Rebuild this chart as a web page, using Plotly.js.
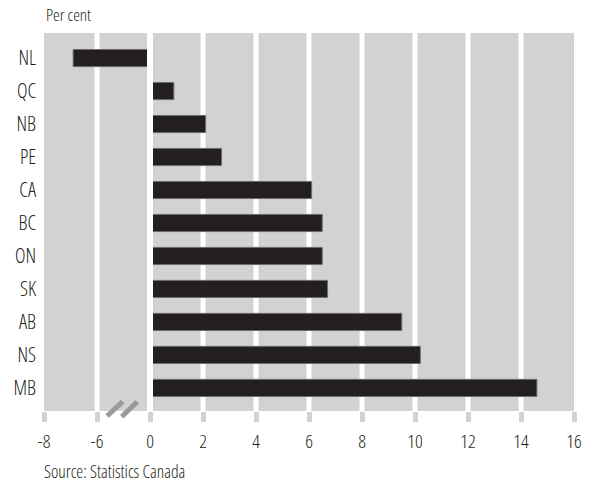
<!DOCTYPE html>
<html>
<head>
<meta charset="utf-8">
<script src="https://cdn.plot.ly/plotly-3.0.1.min.js"></script>
<style>
  html, body { margin: 0; padding: 0; background: #ffffff; }
  #chart { width: 591px; height: 483px; }
  text, svg text, body { font-stretch: 75% !important; }
</style>
</head>
<body>
<div id="chart"></div>
<script>
// Data (per cent)
var provinces = ["NL", "QC", "NB", "PE", "CA", "BC", "ON", "SK", "AB", "NS", "MB"];
var values = [-6.9, 0.9, 2.1, 2.7, 6.1, 6.5, 6.5, 6.7, 9.5, 10.2, 14.6];

// Axis ticks (axis is broken between -6 and 0)
var tickValuesReal = [-8, -6, 0, 2, 4, 6, 8, 10, 12, 14, 16];
var tickLabels = ["-8", "-6", "0", "2", "4", "6", "8", "10", "12", "14", "16"];

// Broken-axis mapping: the span from -6 to 0 is drawn as one 2-unit step
var BREAK_SHIFT = 4;
function toAxis(v) { return v <= -6 ? v + BREAK_SHIFT : v; }

var xPos = values.map(toAxis);
var tickPos = tickValuesReal.map(toAxis);

var FONT = "'Open Sans', 'DejaVu Sans Condensed', sans-serif";
var TEXT = "#231f20";
var GREY = "#d1d2d4";

var trace = {
  type: "bar",
  orientation: "h",
  y: provinces,
  x: xPos,
  marker: { color: "#231f20", line: { color: "#6d6d6d", width: 1 } },
  hoverinfo: "skip"
};

// white vertical separators at the inner ticks
var shapes = tickPos.slice(1, -1).map(function (t) {
  return { type: "line", xref: "x", yref: "paper", x0: t, x1: t, y0: 0, y1: 1,
           line: { color: "#ffffff", width: t === 0 ? 6 : 5 }, layer: t === 0 ? "above" : "below" };
});
shapes.push(
  { type: "line", xref: "paper", yref: "paper", x0: 0.119, y0: -0.0132, x1: 0.1485, y1: 0.0246,
    line: { color: "#9a9a9a", width: 5 }, layer: "above" },
  { type: "line", xref: "paper", yref: "paper", x0: 0.1466, y0: -0.0151, x1: 0.176, y1: 0.0246,
    line: { color: "#9a9a9a", width: 5 }, layer: "above" }
);

var layout = {
  width: 591,
  height: 483,
  margin: { l: 44, r: 17, t: 33, b: 72 },
  paper_bgcolor: "#ffffff",
  plot_bgcolor: GREY,
  showlegend: false,
  bargap: 0.48,
  font: { family: FONT, color: TEXT, weight: 300 },
  xaxis: {
    range: [toAxis(-8), 16],
    tickvals: tickPos,
    ticktext: tickLabels,
    showgrid: false,
    zeroline: false,
    showline: false,
    ticks: "outside",
    ticklen: 10,
    tickwidth: 5,
    tickcolor: GREY,
    ticklabelstandoff: 3,
    tickfont: { family: FONT, size: 19, color: TEXT, weight: 300 },
    fixedrange: true
  },
  yaxis: {
    type: "category",
    range: [10.7, -0.76],
    showgrid: false,
    zeroline: false,
    showline: false,
    ticks: "",
    ticklabelstandoff: 7,
    tickfont: { family: FONT, size: 20, color: TEXT, weight: 300 },
    fixedrange: true
  },
  shapes: shapes,
  annotations: [
    { text: "Per cent", xref: "paper", yref: "paper", x: 0.0, y: 1.048,
      xanchor: "left", yanchor: "middle", showarrow: false,
      font: { family: FONT, size: 17, color: TEXT, weight: 300 } },
    { text: "Source: Statistics Canada", xref: "paper", yref: "paper", x: -0.002, y: -0.158,
      xanchor: "left", yanchor: "middle", showarrow: false, borderpad: 0,
      font: { family: FONT, size: 17.5, color: TEXT, weight: 300 } }
  ]
};

Plotly.newPlot("chart", [trace], layout, { displayModeBar: false, staticPlot: true });
</script>
</body>
</html>
